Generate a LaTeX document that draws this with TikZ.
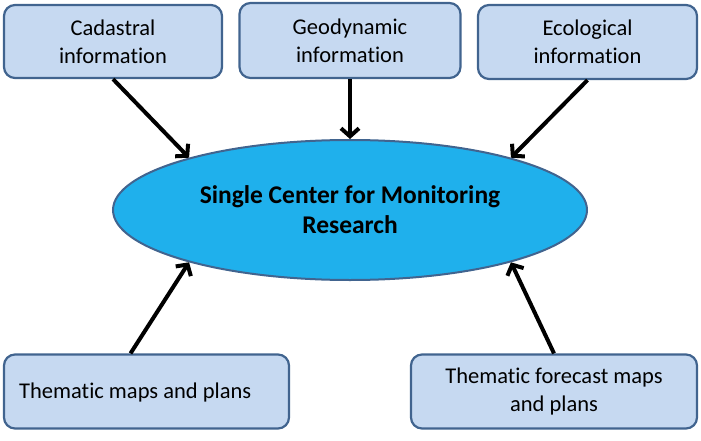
\documentclass[tikz,border=0pt]{standalone}
\usepackage{fontspec}
\setmainfont{Carlito}[Ligatures={NoCommon}]
\usetikzlibrary{arrows.meta,shapes.geometric}
\definecolor{boxfill}{HTML}{C6D9F1}
\definecolor{boxline}{HTML}{41648F}
\definecolor{ellfill}{HTML}{1FB0EC}
\begin{document}
\begin{tikzpicture}[x=1pt,y=-1pt,
  infobox/.style={draw=boxline,line width=2.2pt,fill=boxfill,rounded corners=11pt,
    align=center,font=\fontsize{22.5}{28}\selectfont,inner sep=0pt},
  centre/.style={ellipse,draw=boxline,line width=2pt,fill=ellfill,align=center,
    minimum width=474pt,minimum height=140pt,inner sep=0pt,
    font=\bfseries\fontsize{25.5}{30}\selectfont},
  flow/.style={line width=4pt,-{Straight Barb[length=8pt,width=18pt]}}]
\useasboundingbox (0,0) rectangle (701,441);
\node[infobox,minimum width=218pt,minimum height=73pt] (b1) at (113,41.5) {Cadastral\\information};
\node[infobox,minimum width=221pt,minimum height=75pt] (b2) at (350,40.5) {Geodynamic\\information};
\node[infobox,minimum width=219pt,minimum height=74pt] (b3) at (587.5,42) {Ecological\\information};
\node[infobox,minimum width=285pt,minimum height=74pt] (b4) at (146.5,391.5) {};
\node[font=\fontsize{22.5}{28}\selectfont,anchor=west,inner sep=0pt] (t4) at (19,392) {Thematic maps and plans};
\node[infobox,minimum width=286pt,minimum height=74pt] (b5) at (554,391.5) {Thematic forecast maps\\and plans};
\node[centre] (e) at (350,210) {Single Center for Monitoring\\Research};
\path (b4.north) ++(-16,0) coordinate (s4);
\draw[flow] (b1.south) -- (e.162);
\draw[flow] (b2.south) -- (e.north);
\draw[flow] (b3.south) -- (e.18);
\draw[flow] (s4) -- (e.198);
\draw[flow] (b5.north) -- (e.342);
\end{tikzpicture}
\end{document}
